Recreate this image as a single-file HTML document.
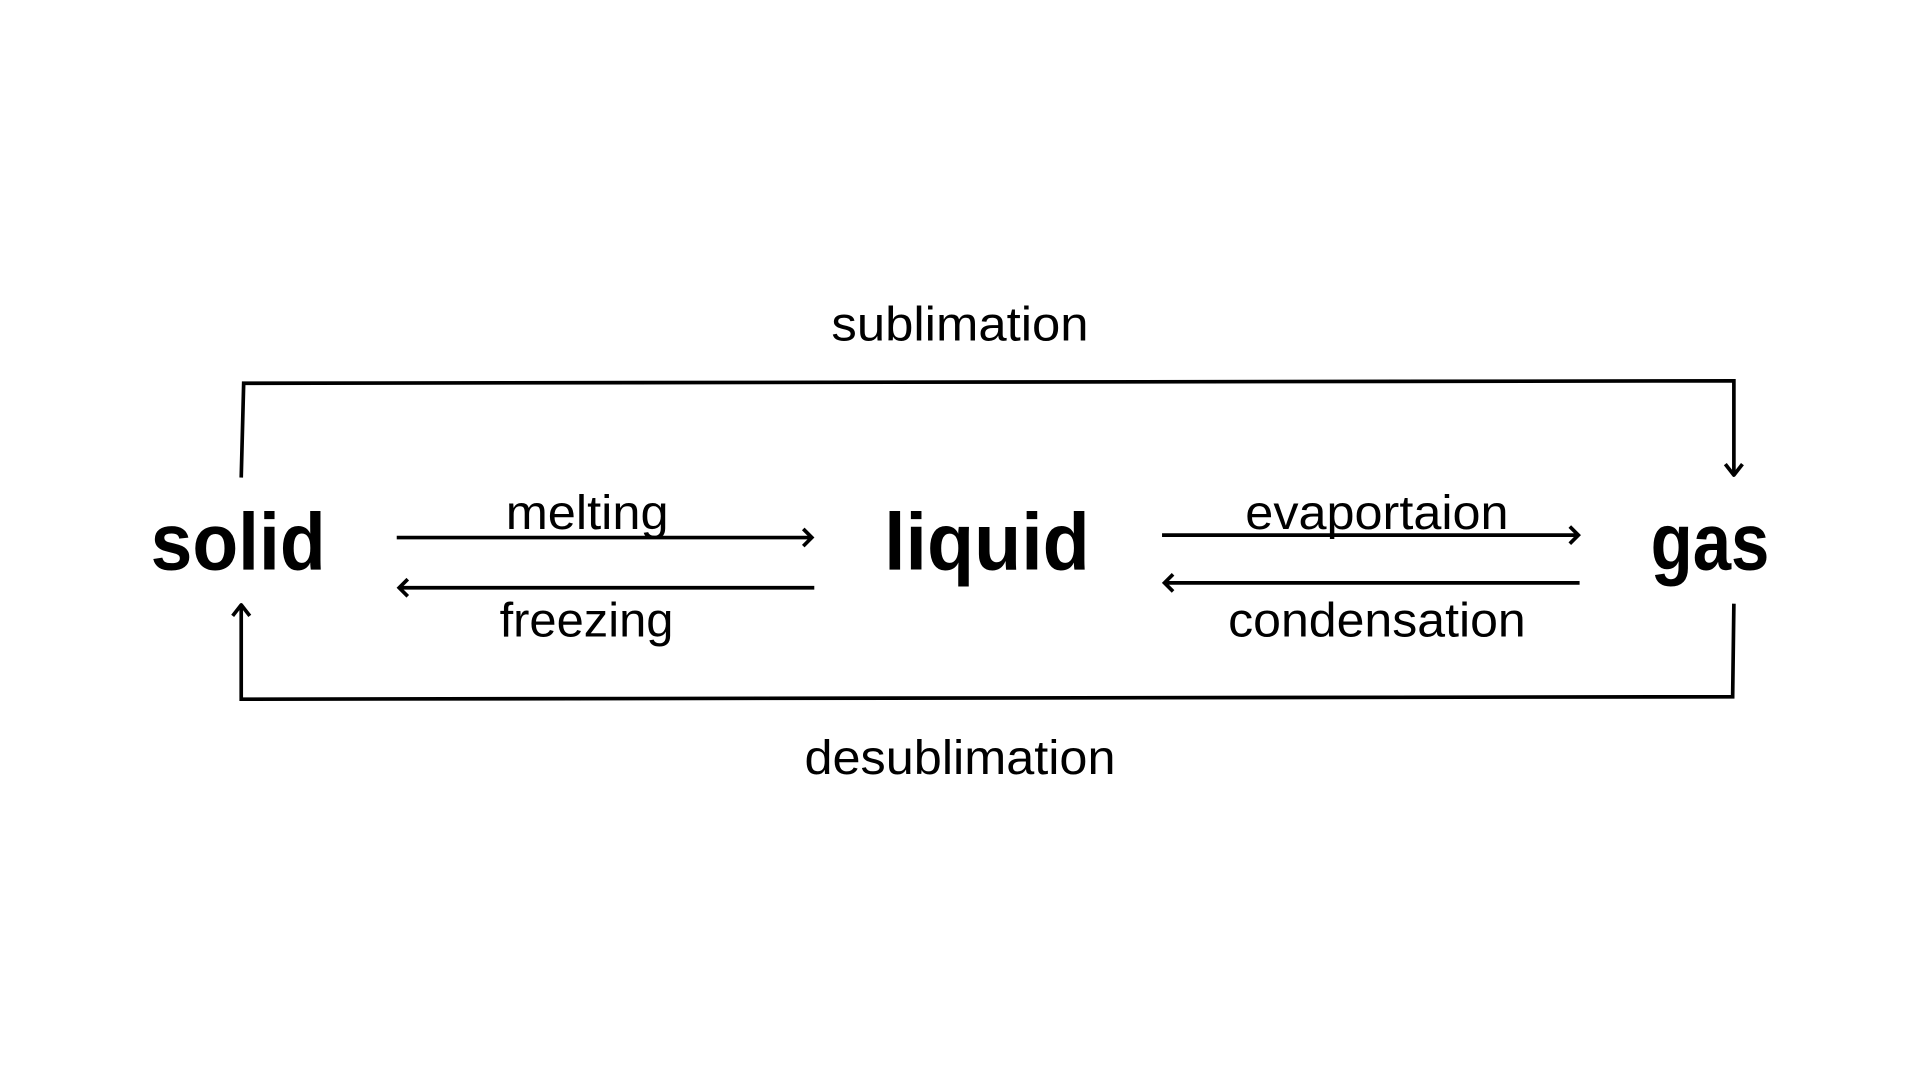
<!DOCTYPE html>
<html><head><meta charset="utf-8"><style>html,body{margin:0;padding:0;background:#fff}svg{display:block}</style></head>
<body>
<svg width="1920" height="1080" viewBox="0 0 1568 882" xmlns="http://www.w3.org/2000/svg">
<rect width="1568" height="882" fill="#fff"/>
<g stroke="#000" stroke-width="3" fill="none" stroke-linecap="butt">
<polyline points="197,390 199,313 1416,311 1416,388"/>
<polyline points="1409,379 1416,388 1423,379" stroke-linejoin="round"/>
<polyline points="1416,493 1415,569 197,571 197,494"/>
<polyline points="190,503 197,494 204,503" stroke-linejoin="round"/>
<line x1="324" y1="439" x2="663" y2="439"/>
<polyline points="656,432 663,439 656,446"/>
<line x1="326" y1="480" x2="665" y2="480"/>
<polyline points="333,473 326,480 333,487"/>
<line x1="949" y1="437" x2="1289" y2="437"/>
<polyline points="1282,430 1289,437 1282,444"/>
<line x1="951" y1="476" x2="1290" y2="476"/>
<polyline points="958,469 951,476 958,483"/>
</g>
<g font-family="Liberation Sans, sans-serif" fill="#000">
<text x="123" y="465" font-size="66" font-weight="bold" textLength="143" lengthAdjust="spacingAndGlyphs">solid</text>
<text x="722" y="465" font-size="66" font-weight="bold" textLength="168" lengthAdjust="spacingAndGlyphs">liquid</text>
<text x="1348" y="465" font-size="66" font-weight="bold" textLength="97" lengthAdjust="spacingAndGlyphs">gas</text>
<text x="679" y="278" font-size="39" textLength="210" lengthAdjust="spacingAndGlyphs">sublimation</text>
<text x="657" y="632" font-size="39" textLength="254" lengthAdjust="spacingAndGlyphs">desublimation</text>
<text x="413" y="432" font-size="39" textLength="133" lengthAdjust="spacingAndGlyphs">melting</text>
<text x="408" y="520" font-size="39" textLength="142" lengthAdjust="spacingAndGlyphs">freezing</text>
<text x="1017" y="432" font-size="39" textLength="215" lengthAdjust="spacingAndGlyphs">evaportaion</text>
<text x="1003" y="520" font-size="39" textLength="243" lengthAdjust="spacingAndGlyphs">condensation</text>
</g>
</svg>
</body></html>
